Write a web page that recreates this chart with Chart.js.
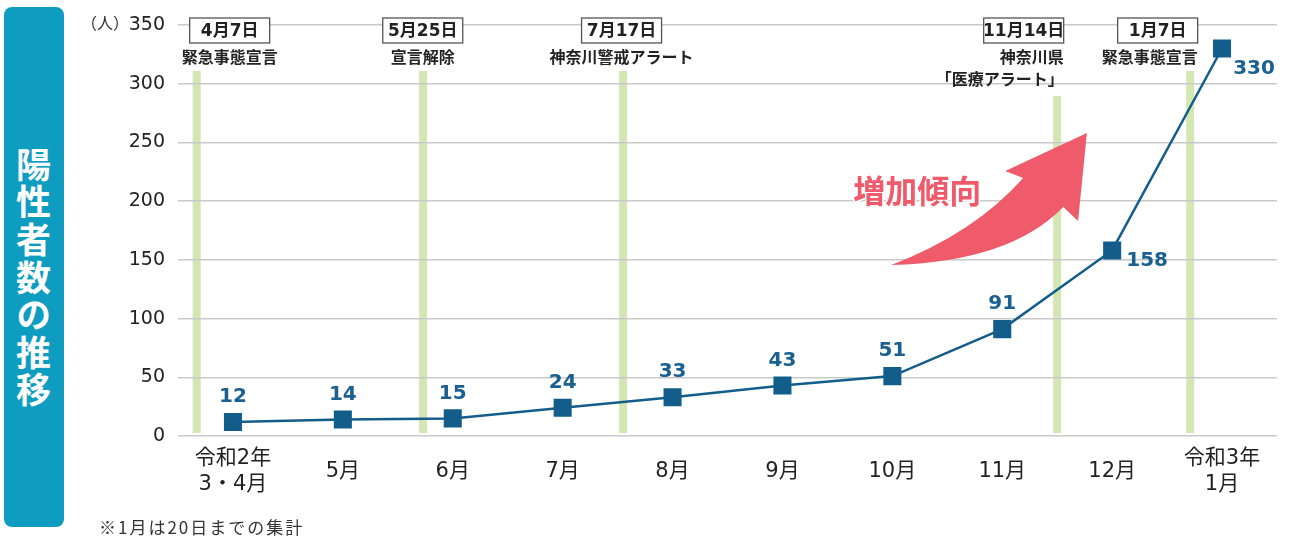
<!DOCTYPE html>
<html>
<head>
<meta charset="utf-8">
<script src="https://cdn.jsdelivr.net/npm/chart.js@4/dist/chart.umd.min.js"></script>
<style>
  body { margin: 0; background: #fff; }
  #wrap { position: relative; width: 1297px; height: 537px; }
  #side {
    position: absolute; left: 4px; top: 7px; width: 60px; height: 520px;
    background: #0f9cc1; border-radius: 8px;
  }
  #side span {
    position: absolute; left: 12px; top: 140px;
    writing-mode: vertical-rl; color: #fff;
    font: bold 35px 'Noto Sans CJK JP', sans-serif; letter-spacing: 2.6px; line-height: 1;
  }
  #note {
    position: absolute; left: 99px; top: 518px;
    font: 17px 'Noto Sans CJK JP', sans-serif; color: #333; line-height: 1; letter-spacing: 2px;
  }
  canvas { position: absolute; left: 0; top: 0; }
</style>
</head>
<body>
<div id="wrap">
  <canvas id="chart" width="1297" height="537"></canvas>
  <div id="side"><span>陽性者数の推移</span></div>
  <div id="note">※1月は20日までの集計</div>
</div>
<script>
const months = [['令和2年', '3・4月'], '5月', '6月', '7月', '8月', '9月', '10月', '11月', '12月', ['令和3年', '1月']];
const positives = [12, 14, 15, 24, 33, 43, 51, 91, 158, 330];
const yTicks = [0, 50, 100, 150, 200, 250, 300, 350];

// events, placed on the month axis (fractional index)
const eventAt = [-0.33, 1.73, 3.55, 7.5, 8.71];
const eventDates = ['4月7日', '5月25日', '7月17日', '11月14日', '1月7日'];
const eventNames = [['緊急事態宣言'], ['宣言解除'], ['神奈川警戒アラート'], ['神奈川県', '「医療アラート」'], ['緊急事態宣言']];

const FONT = "'DejaVu Sans', 'Noto Sans CJK JP', sans-serif";
const BLUE = '#135d8b';

// label box layout for each event: box center (index units), text alignment, bar top offset
const eventLayout = [
  { box: -0.03, align: 'center', barTop: 46 },
  { box: 1.727, align: 'center', barTop: 46 },
  { box: 3.536, align: 'center', barTop: 46 },
  { box: 7.195, align: 'right', barTop: 71 },
  { box: 8.414, align: 'right', barTop: 46 },
];

const eventBars = {
  id: 'eventBars',
  beforeDraw(chart) {
    const { ctx, chartArea, scales: { x } } = chart;
    ctx.save();
    ctx.fillStyle = '#d4e7b3';
    eventAt.forEach((pos, i) => {
      const px = x.getPixelForValue(pos);
      const top = chartArea.top + eventLayout[i].barTop;
      ctx.fillRect(px - 4, top, 8, chartArea.bottom - 3 - top);
    });
    ctx.restore();
  },
  afterDraw(chart) {
    const { ctx, chartArea, scales: { x } } = chart;
    ctx.save();
    eventAt.forEach((pos, i) => {
      const lay = eventLayout[i];
      const cx = x.getPixelForValue(lay.box);
      const bw = 80, bh = 25, by = chartArea.top - 7;
      ctx.fillStyle = '#fff';
      ctx.fillRect(cx - bw / 2, by, bw, bh);
      ctx.strokeStyle = '#555';
      ctx.lineWidth = 1.3;
      ctx.strokeRect(cx - bw / 2, by, bw, bh);
      ctx.fillStyle = '#222';
      ctx.font = 'bold 17px ' + FONT;
      ctx.textAlign = 'center';
      ctx.textBaseline = 'middle';
      ctx.fillText(eventDates[i], cx, by + bh / 2 + 1);
      ctx.font = 'bold 16px ' + FONT;
      ctx.textAlign = lay.align;
      const tx = lay.align === 'right' ? cx + bw / 2 : cx;
      eventNames[i].forEach((line, k) => {
        ctx.fillText(line, tx, by + 41 + k * 22);
      });
    });

    // y unit
    ctx.fillStyle = '#333';
    ctx.font = '16px ' + FONT;
    ctx.textAlign = 'left';
    ctx.fillText('（人）', 81, chartArea.top);
    ctx.restore();
  }
};

const valueLabels = {
  id: 'valueLabels',
  afterDatasetsDraw(chart) {
    const { ctx } = chart;
    const meta = chart.getDatasetMeta(0);
    const offsets = { 8: [35, 10], 9: [32, 20] };
    ctx.save();
    ctx.fillStyle = '#1a6091';
    ctx.font = 'bold 20px ' + FONT;
    ctx.textAlign = 'center';
    ctx.textBaseline = 'middle';
    meta.data.forEach((pt, i) => {
      const off = offsets[i] || [0, -25];
      ctx.fillText(String(positives[i]), pt.x + off[0], pt.y + off[1]);
    });
    ctx.restore();
  }
};

const trendArrow = {
  id: 'trendArrow',
  afterDatasetsDraw(chart) {
    const { ctx, scales: { x, y } } = chart;
    const P = (i, v) => [x.getPixelForValue(i), y.getPixelForValue(v)];
    const tail = P(5.99, 145.6), c1 = P(7.07, 148.2), low = P(7.555, 195);
    const barb1 = P(7.69, 183.1), tip = P(7.77, 258), barb2 = P(7.027, 225.7);
    const notch = P(7.19, 219.7), c2 = P(6.75, 173);
    ctx.save();
    ctx.fillStyle = '#ef5b6a';
    ctx.beginPath();
    ctx.moveTo(...tail);
    ctx.quadraticCurveTo(...c1, ...low);
    ctx.lineTo(...barb1);
    ctx.lineTo(...tip);
    ctx.lineTo(...barb2);
    ctx.lineTo(...notch);
    ctx.quadraticCurveTo(...c2, ...tail);
    ctx.closePath();
    ctx.fill();

    const t = P(6.227, 208.6);
    ctx.font = "bold 32px 'Noto Sans CJK JP', sans-serif";
    ctx.textAlign = 'center';
    ctx.textBaseline = 'middle';
    ctx.lineWidth = 3;
    ctx.strokeStyle = '#fff';
    ctx.strokeText('増加傾向', t[0], t[1]);
    ctx.fillText('増加傾向', t[0], t[1]);
    ctx.restore();
  }
};

new Chart(document.getElementById('chart'), {
  type: 'line',
  data: {
    labels: months,
    datasets: [{
      data: positives,
      borderColor: BLUE,
      backgroundColor: BLUE,
      borderWidth: 2.5,
      pointStyle: 'rect',
      pointRadius: 11,
      pointHoverRadius: 11,
      tension: 0,
    }]
  },
  options: {
    responsive: false,
    animation: false,
    layout: { padding: { left: 70, right: 20, top: 25, bottom: 30 } },
    plugins: { legend: { display: false }, tooltip: { enabled: false } },
    scales: {
      x: {
        offset: true,
        grid: { display: false },
        border: { display: false },
        ticks: {
          color: '#222',
          font: { family: FONT, size: 21, lineHeight: 1.2 },
          padding: 15,
          crossAlign: 'center',
          maxRotation: 0,
          autoSkip: false,
        },
        afterFit(scale) { scale.height = 71; }
      },
      y: {
        min: 0,
        max: 350,
        afterBuildTicks(scale) { scale.ticks = yTicks.map(v => ({ value: v })); },
        grid: { color: '#c9c9c9', lineWidth: 1.5, drawTicks: false },
        border: { display: false },
        ticks: {
          color: '#222',
          font: { family: FONT, size: 19 },
          padding: 13,
        },
        afterFit(scale) { scale.width = 108; }
      }
    }
  },
  plugins: [eventBars, valueLabels, trendArrow]
});
</script>
</body>
</html>
